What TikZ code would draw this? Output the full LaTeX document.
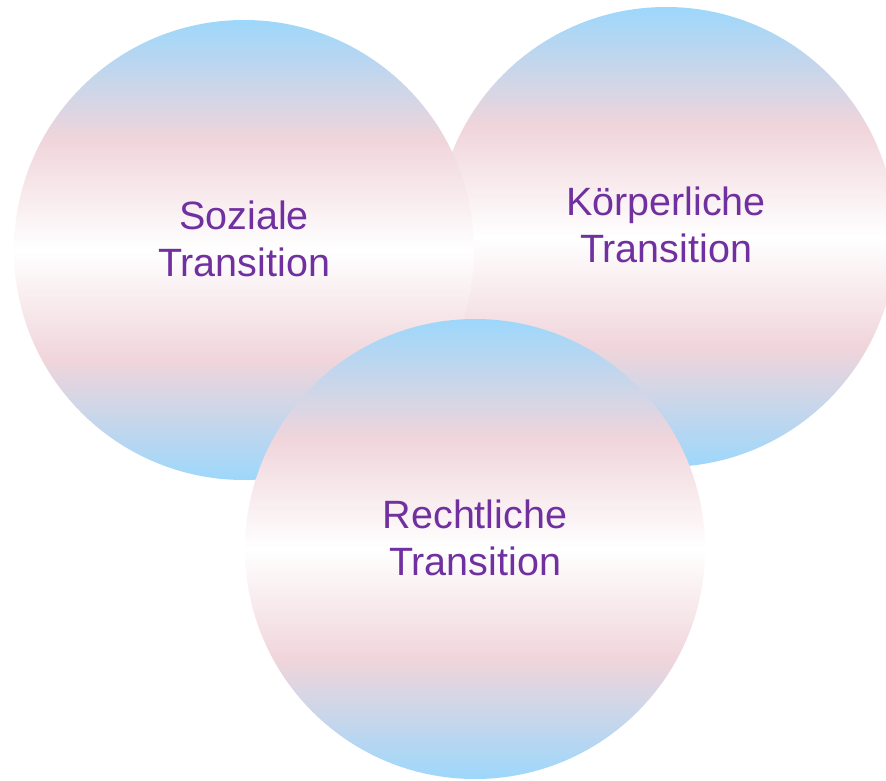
\documentclass[tikz,border=0pt]{standalone}
\usepackage{fontspec}
\setmainfont{Liberation Sans}
\definecolor{tblue}{HTML}{9DD7FB}
\definecolor{tpink}{HTML}{F0D5DB}
\definecolor{twhite}{HTML}{FFFFFF}
\definecolor{tpurple}{HTML}{7030A0}
\pgfdeclareverticalshading{transgrad}{100bp}{color(0bp)=(tblue); color(25bp)=(tblue); color(38bp)=(tpink); color(50bp)=(twhite); color(62bp)=(tpink); color(75bp)=(tblue); color(100bp)=(tblue)}
\tikzset{
  bubble/.style={circle, minimum size=460pt, inner sep=0pt, outer sep=0pt, shading=transgrad},
  label/.style={align=center, inner sep=0pt, text=tpurple, font=\fontsize{39.5}{47.4}\selectfont}
}
\begin{document}
\begin{tikzpicture}[x=1pt,y=-1pt]
\useasboundingbox (0,0) rectangle (886,781);
\fill[white] (0,0) rectangle (886,781);
\clip (0,0) rectangle (886,781);
\node[bubble] (koerp) at (666,237) {};
\node[bubble] (soz) at (244,250) {};
\node[bubble] (recht) at (475,549) {};
\node[label] (tkoerp) at ([yshift=12pt]koerp.center) {Körperliche\\Transition};
\node[label] (tsoz) at ([yshift=11pt]soz.center) {Soziale\\Transition};
\node[label] (trecht) at ([yshift=11pt]recht.center) {Rechtliche\\Transition};
\end{tikzpicture}
\end{document}
